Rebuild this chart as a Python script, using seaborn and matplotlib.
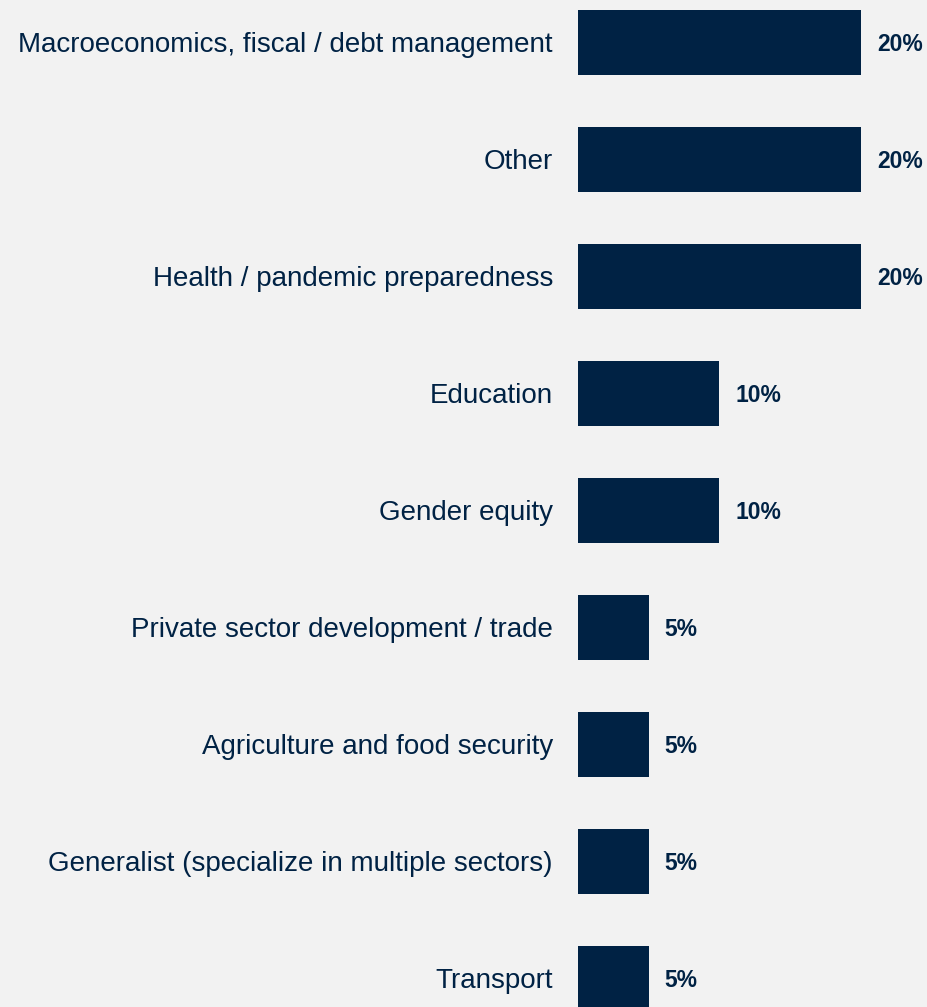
import matplotlib
matplotlib.use("Agg")
import matplotlib.pyplot as plt
import pandas as pd
import seaborn as sns

categories = [
    "Macroeconomics, fiscal / debt management",
    "Other",
    "Health / pandemic preparedness",
    "Education",
    "Gender equity",
    "Private sector development / trade",
    "Agriculture and food security",
    "Generalist (specialize in multiple sectors)",
    "Transport",
]
shares = [20, 20, 20, 10, 10, 5, 5, 5, 5]

navy = "#002244"
bg = "#f2f2f2"

df = pd.DataFrame({"sector": categories, "share": shares})

sns.set_theme(style="white")
plt.rcParams["font.family"] = ["Liberation Sans", "DejaVu Sans"]

fig = plt.figure(figsize=(9.28, 10.07), dpi=100, facecolor=bg)
ax = fig.add_axes([578 / 928, 0, 350 / 928, 1])
ax.set_facecolor(bg)

sns.barplot(data=df, x="share", y="sector", orient="h", color=navy,
            width=65 / 117, saturation=1, linewidth=0, ax=ax)

# values on the bar ends
for i, v in enumerate(shares):
    ax.annotate(f"{v}%", (v, i), xytext=(11.5, 0), textcoords="offset points",
                ha="left", va="center_baseline", fontsize=16.5,
                fontweight="bold", color=navy)

ax.set_xlim(0, 350 / 283 * 20)
ax.set_ylim((1007 - 42) / 117, -42 / 117)
ax.set_xlabel("")
ax.set_ylabel("")
ax.set_xticks([])
ax.tick_params(axis="y", length=0, pad=18, labelsize=20, labelcolor=navy)
for s in ax.spines.values():
    s.set_visible(False)

fig.savefig("out.png", dpi=100, facecolor=bg)
